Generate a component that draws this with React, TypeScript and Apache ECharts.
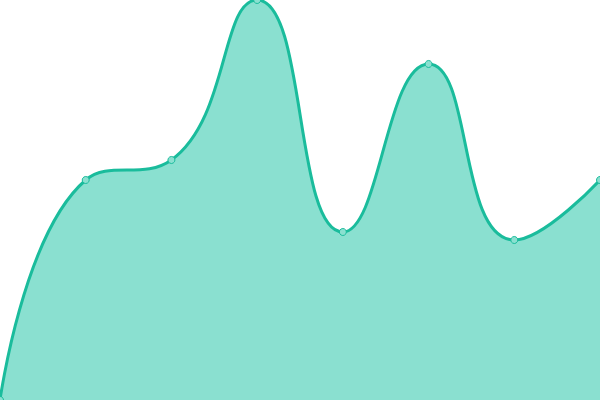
import React, { useEffect, useRef } from "react";
import * as echarts from "echarts";

const categories = ["A", "B", "C", "D", "E", "F", "G", "H"];
const values = [0, 55, 60, 100, 42, 84, 40, 55];

const App: React.FC = () => {
  const chartRef = useRef<HTMLDivElement>(null);

  useEffect(() => {
    if (!chartRef.current) return;
    const chart = echarts.init(chartRef.current, undefined, { renderer: "svg" });
    chart.setOption({
      animation: false,
      grid: { left: 0, right: 0, top: 0, bottom: 0 },
      xAxis: {
        type: "category",
        data: categories,
        boundaryGap: false,
        show: false,
      },
      yAxis: {
        type: "value",
        min: 0,
        max: 100,
        show: false,
      },
      series: [
        {
          type: "line",
          data: values,
          smooth: true,
          symbol: "circle",
          symbolSize: 7,
          lineStyle: { color: "#1abc9c", width: 3 },
          itemStyle: { color: "#8ae0d0", borderColor: "#1abc9c", borderWidth: 1 },
          areaStyle: { color: "#8ae0d0", opacity: 1 },
        },
      ],
    });
    return () => {
      chart.dispose();
    };
  }, []);

  return (
    <div
      ref={chartRef}
      style={{ position: "absolute", left: 0, top: 0, width: 600, height: 400 }}
    />
  );
};

export default App;
